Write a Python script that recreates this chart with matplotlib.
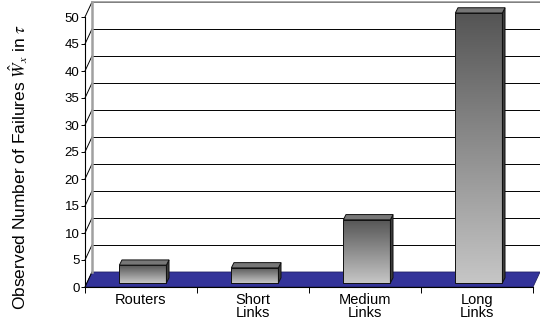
import numpy as np
import matplotlib
matplotlib.use("Agg")
from matplotlib import pyplot as plt
from matplotlib.patches import Polygon, Rectangle
from matplotlib.colors import LinearSegmentedColormap

plt.rcParams["font.family"] = ["Liberation Sans", "DejaVu Sans"]
plt.rcParams["mathtext.fontset"] = "stix"

# data
categories = ["Routers", "Short\nLinks", "Medium\nLinks", "Long\nLinks"]
failures = [3.3, 2.8, 11.7, 50.0]
y_ticks = list(range(0, 55, 5))

# 3D look (in data units)
ddx, ddy = 7 / 112.0, 15 / 5.4      # depth of the floor / back wall
front_frac = 0.27                   # where the bars start in depth
bdx, bdy = 2.6 / 112.0, 5.2 / 5.4   # depth of each bar
bar_w = 0.42

fig = plt.figure(figsize=(5.40, 3.27), dpi=100)
ax = fig.add_axes([85 / 540, 40 / 327, 455 / 540, 285 / 327])
ax.set_xlim(0, 4 + ddx)
ax.set_ylim(0, 50 + ddy)

# floor
ax.add_patch(Polygon([(0, 0), (4, 0), (4 + ddx, ddy), (ddx, ddy)],
                     closed=True, facecolor="#333399", edgecolor="#222266",
                     lw=0.6, zorder=1))

# back wall grid and the slanted lines to the front axis
for v in y_ticks[1:]:
    ax.plot([ddx, 4 + ddx], [v + ddy, v + ddy], color="#000000", lw=0.7,
            zorder=1, clip_on=False)
for v in y_ticks:
    ax.plot([0, ddx], [v, v + ddy], color="#000000", lw=0.7, zorder=1,
            clip_on=False)
ax.plot([ddx, 4 + ddx], [50 + ddy, 50 + ddy], color="#9a9a9a", lw=1.2,
        zorder=1, clip_on=False)
ax.plot([ddx, ddx], [ddy, 50 + ddy], color="#a0a0a0", lw=1.8, zorder=1,
        clip_on=False)

# gradient bars
front_cmap = LinearSegmentedColormap.from_list("front", ["#c6c6c6", "#555555"])
grad = np.linspace(0, 1, 256).reshape(-1, 1)
for i, val in enumerate(failures):
    x0 = i + 0.5 - bar_w / 2 + front_frac * ddx
    x1 = x0 + bar_w
    y0 = front_frac * ddy
    y1 = y0 + val
    front = Rectangle((x0, y0), bar_w, val, facecolor="none",
                      edgecolor="#111111", lw=0.7, zorder=4)
    ax.add_patch(front)
    im = ax.imshow(grad, extent=[x0, x1, y0, y1], origin="lower",
                   cmap=front_cmap, aspect="auto", zorder=3)
    im.set_clip_path(front)
    side = Polygon([(x1, y0), (x1 + bdx, y0 + bdy), (x1 + bdx, y1 + bdy),
                    (x1, y1)], closed=True, facecolor="#3c3c3c",
                   edgecolor="#111111", lw=0.7, zorder=3)
    ax.add_patch(side)
    top = Polygon([(x0, y1), (x1, y1), (x1 + bdx, y1 + bdy),
                   (x0 + bdx, y1 + bdy)], closed=True, facecolor="#777777",
                  edgecolor="#111111", lw=0.7, zorder=4)
    ax.add_patch(top)

ax.set_xlim(0, 4 + ddx)
ax.set_ylim(0, 50 + ddy)

# axes
for s in ["top", "right"]:
    ax.spines[s].set_visible(False)
ax.spines["left"].set_bounds(0, 50)
ax.spines["bottom"].set_bounds(0, 4)
ax.spines["left"].set_linewidth(0.8)
ax.spines["bottom"].set_linewidth(0.8)
ax.spines["left"].set_zorder(5)
ax.spines["bottom"].set_zorder(5)

ax.set_yticks(y_ticks)
ax.set_yticklabels([str(v) for v in y_ticks], fontsize=9.5)
ax.tick_params(axis="y", length=3, width=0.7, pad=1)

ax.set_xticks(range(5))
ax.set_xticklabels([])
ax.tick_params(axis="x", which="major", length=4, width=0.7)
ax.set_xticks([i + 0.5 for i in range(4)], minor=True)
ax.set_xticklabels(categories, minor=True, fontsize=10.5, linespacing=0.95)
ax.tick_params(axis="x", which="minor", length=0, pad=4)

fig.text(18 / 540, 0.49, r"Observed Number of Failures $\hat{W}_x$ in $\tau$",
         rotation=90, ha="center", va="center", fontsize=12.5)

fig.savefig("out.png", dpi=100)
